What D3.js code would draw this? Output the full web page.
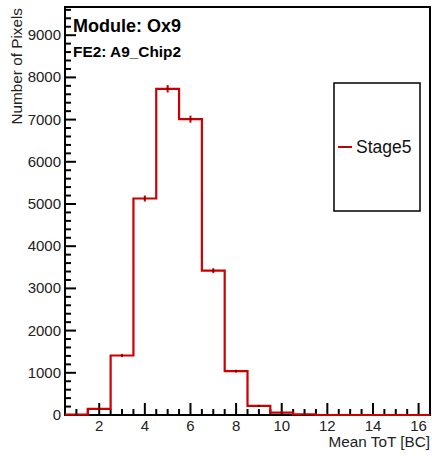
<!DOCTYPE html>
<html><head><meta charset="utf-8">
<script src="https://cdn.jsdelivr.net/npm/d3@7"></script>
<style>body{margin:0;background:#fff}svg{display:block}text{font-family:"Liberation Sans",Arial,sans-serif}</style>
</head><body><svg id="c" width="432" height="456"></svg>
<script>
const binCenters = [1,2,3,4,5,6,7,8,9,10,11,12,13,14,15,16];
const counts = [8,145,1410,5130,7730,7010,3420,1040,215,55,15,0,0,0,0,0];
const yTicks = [0,1000,2000,3000,4000,5000,6000,7000,8000,9000];
const xTicks = [2,4,6,8,10,12,14,16];
const seriesName = "Stage5";
const moduleLabel = "Module: Ox9";
const chipLabel = "FE2: A9_Chip2";
const xTitle = "Mean ToT [BC]";
const yTitle = "Number of Pixels";

const svg = d3.select("#c");
const L=65, R=430, T=7, B=415;
const x = d3.scaleLinear().domain([0.5,16.5]).range([L,R]);
const y = d3.scaleLinear().domain([0,9668]).range([B,T]);
const red = "#cc0000";

// frame
svg.append("rect").attr("x",L).attr("y",T).attr("width",R-L).attr("height",B-T)
  .attr("fill","none").attr("stroke","#000").attr("stroke-width",2);

// y axis
const yMinor = d3.range(0,9601,200);
svg.append("g").selectAll("line").data(yMinor).join("line")
  .attr("x1",L).attr("x2",d=>L+(d%1000===0?11:6))
  .attr("y1",d=>y(d)).attr("y2",d=>y(d)).attr("stroke","#000").attr("stroke-width",2);
svg.append("g").selectAll("text").data(yTicks).join("text")
  .attr("x",L-4).attr("y",d=>y(d)+5).attr("text-anchor","end")
  .attr("font-size",15).attr("fill","#222").text(d=>d);

// x axis
const xMinor = d3.range(1,16.51,0.5);
svg.append("g").selectAll("line").data(xMinor).join("line")
  .attr("x1",d=>x(d)).attr("x2",d=>x(d))
  .attr("y1",B).attr("y2",d=>B-(d%2===0?12:6)).attr("stroke","#000").attr("stroke-width",2);
svg.append("g").selectAll("text").data(xTicks).join("text")
  .attr("x",d=>x(d)).attr("y",B+16).attr("text-anchor","middle")
  .attr("font-size",15).attr("fill","#222").text(d=>d);

// titles
svg.append("text").attr("x",R).attr("y",447).attr("text-anchor","end")
  .attr("font-size",15.3).attr("fill","#222").text(xTitle);
svg.append("text").attr("transform","translate(22,8) rotate(-90)").attr("text-anchor","end")
  .attr("font-size",15.3).attr("fill","#222").text(yTitle);

// histogram step line
const pts = [];
binCenters.forEach((c,i)=>{ pts.push([c-0.5,counts[i]]); pts.push([c+0.5,counts[i]]); });
const line = d3.line().x(d=>x(d[0])).y(d=>y(d[1]));
svg.append("path").attr("d",line(pts)).attr("fill","none").attr("stroke",red).attr("stroke-width",2.2);

// error bars
const eb = svg.append("g");
binCenters.forEach((c,i)=>{
  const v=counts[i]; if(v<=0) return; const e=Math.sqrt(v);
  eb.append("line").attr("x1",x(c)).attr("x2",x(c)).attr("y1",y(v-e)).attr("y2",y(v+e))
    .attr("stroke",red).attr("stroke-width",2);
  eb.append("rect").attr("x",x(c)-1).attr("y",y(v)-1).attr("width",2).attr("height",2).attr("fill","#700");
});

// labels
svg.append("text").attr("x",73).attr("y",32).attr("font-size",18).attr("font-weight","bold").text(moduleLabel);
svg.append("text").attr("x",73).attr("y",57).attr("font-size",15.4).attr("font-weight","bold").text(chipLabel);

// legend
svg.append("rect").attr("x",334).attr("y",83).attr("width",86).attr("height",128)
  .attr("fill","#fff").attr("stroke","#000").attr("stroke-width",1.5);
svg.append("line").attr("x1",338).attr("x2",352).attr("y1",147).attr("y2",147).attr("stroke",red).attr("stroke-width",2);
svg.append("rect").attr("x",344).attr("y",146).attr("width",2).attr("height",2).attr("fill","#333");
svg.append("text").attr("x",356).attr("y",153).attr("font-size",17.5).attr("fill","#111").text(seriesName);
</script></body></html>
